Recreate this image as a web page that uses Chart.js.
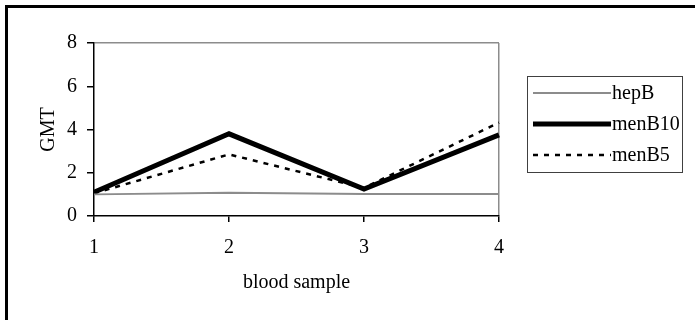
<!DOCTYPE html>
<html>
<head>
<meta charset="utf-8">
<script src="https://cdn.jsdelivr.net/npm/chart.js@4/dist/chart.umd.min.js"></script>
<style>
  html, body { margin: 0; padding: 0; background: #fff; }
  canvas { display: block; }
</style>
</head>
<body>
<canvas id="gmtChart" width="695" height="320"></canvas>
<script>
const samples = ['1', '2', '3', '4'];
const hepB = [1.0, 1.08, 1.02, 1.02];
const menB10 = [1.1, 3.8, 1.25, 3.75];
const menB5 = [1.05, 2.85, 1.3, 4.32];
const yTicks = [0, 2, 4, 6, 8];

const serif = 'Liberation Serif, Times New Roman, serif';

// outer frame (only top and left edges are inside the picture)
const framePlugin = {
    id: 'frame',
    beforeDraw(chart) {
        const ctx = chart.ctx;
        ctx.save();
        ctx.strokeStyle = '#000';
        ctx.lineWidth = 3;
        ctx.beginPath();
        ctx.moveTo(6.5, 320);
        ctx.lineTo(6.5, 6.5);
        ctx.lineTo(695, 6.5);
        ctx.stroke();
        ctx.restore();
    }
};

// boxed legend on the right, styled from the datasets
const boxLegend = {
    id: 'boxLegend',
    afterDraw(chart) {
        const ctx = chart.ctx;
        ctx.save();
        ctx.strokeStyle = '#404040';
        ctx.lineWidth = 1;
        ctx.strokeRect(527.5, 76.5, 155, 96);
        chart.data.datasets.forEach((ds, i) => {
            const y = 93 + i * 31;
            ctx.strokeStyle = ds.borderColor;
            ctx.lineWidth = ds.borderWidth;
            ctx.setLineDash(ds.borderDash || []);
            ctx.beginPath();
            ctx.moveTo(533, y);
            ctx.lineTo(611, y);
            ctx.stroke();
            ctx.setLineDash([]);
            ctx.fillStyle = '#000';
            ctx.font = '20px ' + serif;
            ctx.textBaseline = 'middle';
            ctx.fillText(ds.label, 612, y + 1);
        });
        ctx.restore();
    }
};

new Chart(document.getElementById('gmtChart'), {
    type: 'line',
    data: {
        labels: samples,
        datasets: [
            { label: 'hepB', data: hepB, borderColor: '#8c8c8c', borderWidth: 2 },
            { label: 'menB10', data: menB10, borderColor: '#000', borderWidth: 5 },
            { label: 'menB5', data: menB5, borderColor: '#000', borderWidth: 2.5, borderDash: [5, 6] }
        ]
    },
    options: {
        responsive: false,
        animation: false,
        devicePixelRatio: 1,
        layout: { padding: { left: 0, top: 43, right: 196, bottom: 0 } },
        elements: {
            point: { radius: 0 },
            line: { tension: 0, borderJoinStyle: 'miter', fill: false }
        },
        plugins: { legend: { display: false }, tooltip: { enabled: false } },
        scales: {
            x: {
                offset: false,
                afterFit: s => { s.height = 104; },
                grid: {
                    color: c => c.index === samples.length - 1 ? '#8c8c8c' : 'rgba(0,0,0,0)',
                    tickColor: '#000',
                    tickLength: 6,
                    lineWidth: 1.5
                },
                border: { color: '#000', width: 1.5 },
                ticks: { color: '#000', font: { family: serif, size: 20 }, padding: 14, maxRotation: 0 },
                title: { display: true, text: 'blood sample', color: '#000', font: { family: serif, size: 20 }, padding: { top: 0, bottom: 25 } }
            },
            y: {
                min: 0,
                max: 8,
                afterFit: s => { s.width = 94; },
                afterBuildTicks: s => { s.ticks = yTicks.map(v => ({ value: v })); },
                grid: {
                    color: c => c.tick && c.tick.value === 8 ? '#8c8c8c' : 'rgba(0,0,0,0)',
                    tickColor: '#000',
                    tickLength: 7,
                    lineWidth: 1.5
                },
                border: { color: '#000', width: 1.5 },
                ticks: { color: '#000', font: { family: serif, size: 20 }, padding: 10 },
                title: { display: true, text: 'GMT', color: '#000', font: { family: serif, size: 20 }, padding: { top: 37, bottom: 0 } }
            }
        }
    },
    plugins: [framePlugin, boxLegend]
});
</script>
</body>
</html>
